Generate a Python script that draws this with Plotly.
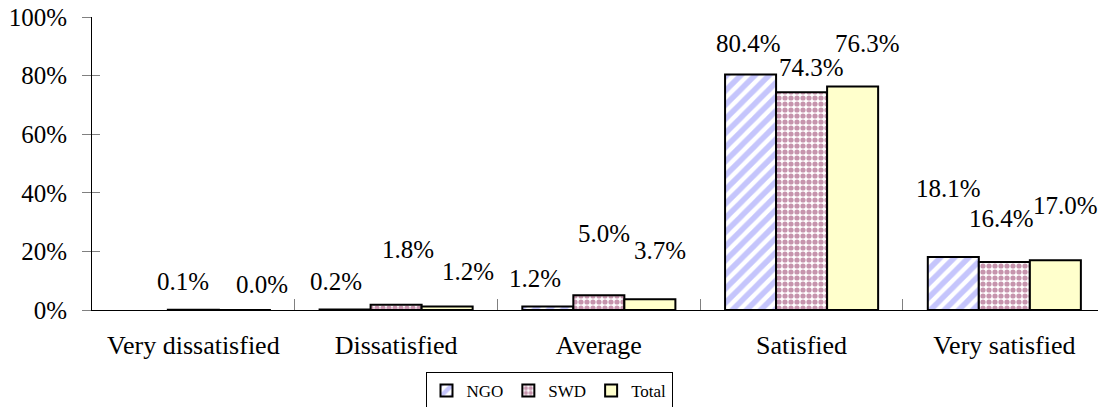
import plotly.graph_objects as go

categories = ["Very dissatisfied", "Dissatisfied", "Average", "Satisfied", "Very satisfied"]
series_names = ["NGO", "SWD", "Total"]
ngo = [None, 0.002, 0.012, 0.804, 0.181]
swd = [0.001, 0.018, 0.050, 0.743, 0.164]
total = [0.0004, 0.012, 0.037, 0.763, 0.170]
y_ticks = [0, 0.2, 0.4, 0.6, 0.8, 1.0]

# label placement style (pixel offsets, as in the original manual placement)
label_lift = [[0, 28, 28, 31, 68], [28, 55, 62, 25, 43], [25, 35, 49, 43, 55]]
label_dx = [[0, -9, -13, -2, -5], [-10, 12, 5, 10, -3], [18, 21, 10, 15, 10]]

W, H = 1098, 407
ML, MR, MT, MB = 92, 0, 17, 97
XR = [-0.5, 4.462]
BARGAP = 0.245
FONT = "'Liberation Serif', 'Times New Roman', serif"

styles = [
    dict(color="white", pattern=dict(shape="/", fgcolor="#8C8CFA", bgcolor="white", size=10, solidity=0.55)),
    dict(color="white", pattern=dict(shape=".", fgcolor="#8E2A5C", bgcolor="white", size=6, solidity=0.6)),
    dict(color="#FFFFCC"),
]

fig = go.Figure()
for name, vals, st in zip(series_names, [ngo, swd, total], styles):
    fig.add_trace(go.Bar(
        name=name, x=categories, y=vals,
        marker=dict(line=dict(color="black", width=2), **st),
    ))

# dummy trace for inner tick half on the y axis
fig.add_trace(go.Scatter(x=[categories[0]], y=[None], yaxis="y2", showlegend=False, hoverinfo="skip"))

plot_w = W - ML - MR
cat_px = plot_w / (XR[1] - XR[0])
bar_px = cat_px * (1 - BARGAP) / 3

for i, vals in enumerate([ngo, swd, total]):
    for j, v in enumerate(vals):
        if v is None:
            continue
        fig.add_annotation(
            x=categories[j], y=v, text=f"{v:.1%}", showarrow=False,
            xshift=(i - 1) * bar_px + label_dx[i][j], yshift=label_lift[i][j],
            yanchor="middle", xanchor="center",
            font=dict(family=FONT, size=25, color="black"),
        )

fig.update_layout(
    width=W, height=H, margin=dict(l=ML, r=MR, t=MT, b=MB),
    paper_bgcolor="white", plot_bgcolor="white",
    barmode="group", bargap=BARGAP, bargroupgap=0,
    font=dict(family=FONT, color="black"),
    xaxis=dict(range=XR, showline=True, linecolor="black", linewidth=1,
               ticks="inside", tickson="boundaries", ticklen=11, tickcolor="#808080",
               tickfont=dict(family=FONT, size=26), ticklabelstandoff=12,
               showgrid=False, zeroline=False, fixedrange=True, automargin=False),
    yaxis=dict(range=[0, 1], tickvals=y_ticks, tickformat=".0%", showline=True,
               linecolor="black", linewidth=1, ticks="outside", ticklen=9,
               tickcolor="#808080", tickfont=dict(family=FONT, size=25),
               ticklabelstandoff=10, showgrid=False, zeroline=False, automargin=False),
    yaxis2=dict(range=[0, 1], overlaying="y", side="left", tickvals=y_ticks,
                ticks="inside", ticklen=8, tickcolor="#808080", automargin=False,
                showticklabels=False, showline=False, showgrid=False, zeroline=False),
    legend=dict(orientation="h", xref="container", yref="container",
                x=549 / W, xanchor="center", y=1 - 372 / H, yanchor="top",
                bordercolor="black", borderwidth=1, bgcolor="white",
                font=dict(family=FONT, size=17), itemwidth=30),
    showlegend=True,
)

fig.write_html("out.html", config={"displayModeBar": False},
               post_script="document.body.style.margin='0';document.body.style.overflow='hidden';")
